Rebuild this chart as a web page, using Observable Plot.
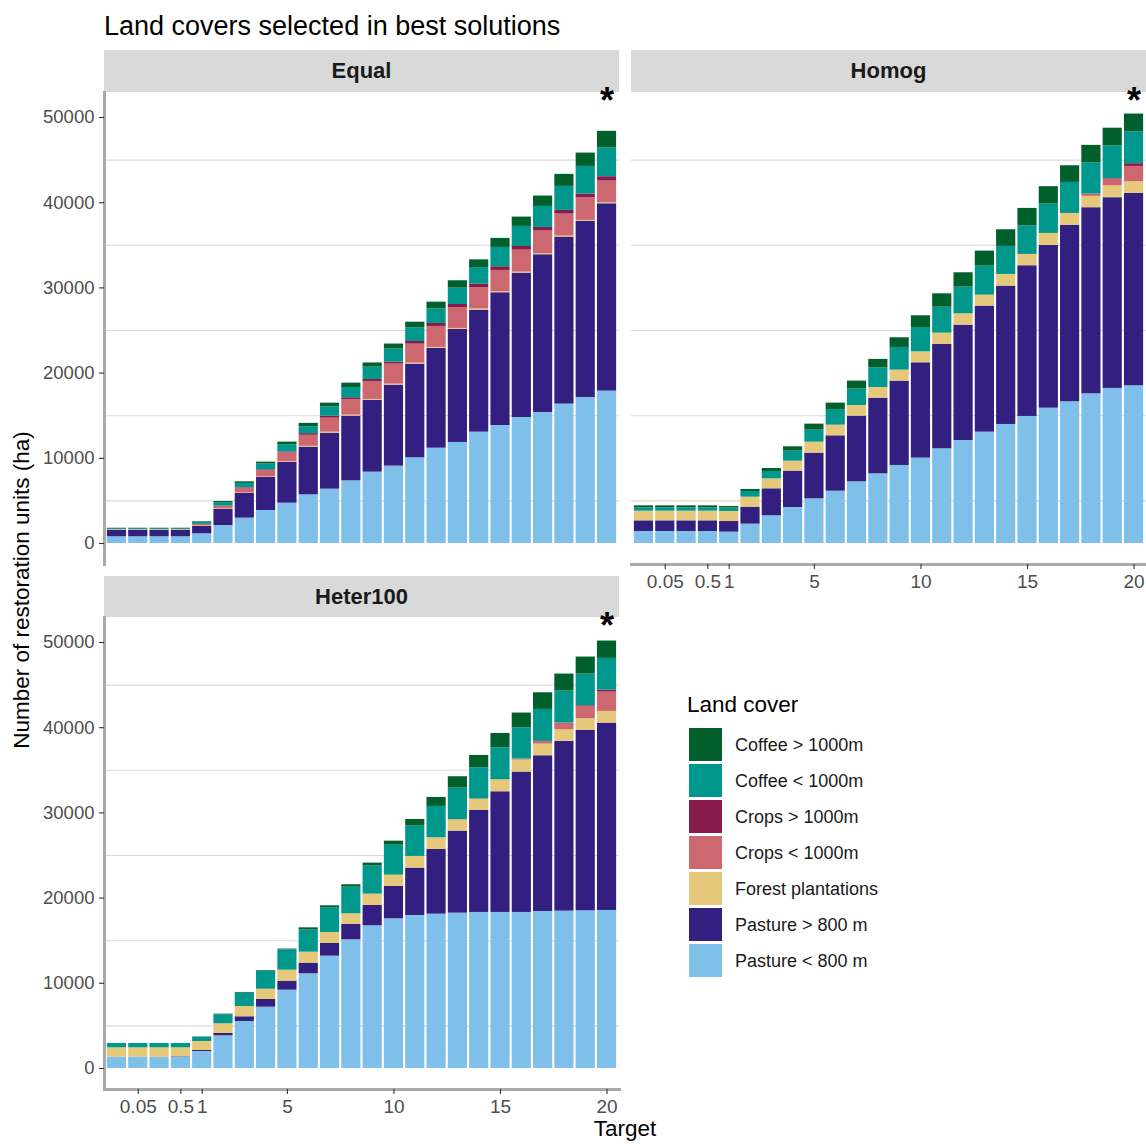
<!DOCTYPE html>
<html>
<head>
<meta charset="utf-8">
<script src="https://cdn.jsdelivr.net/npm/d3@7"></script>
<script src="https://cdn.jsdelivr.net/npm/@observablehq/plot@0.6"></script>
<style>
  html, body { margin: 0; padding: 0; background: #fff; }
  body { font-family: "Liberation Sans", Arial, Helvetica, sans-serif; }
  #root { position: relative; width: 1146px; height: 1144px; overflow: hidden; background: #fff; }
  .strip { position: absolute; background: #d9d9d9; color: #1a1a1a; font-weight: bold; font-size: 22px;
           display: flex; align-items: center; justify-content: center; }
  .title { font-size: 27px; color: #000; line-height: 1; white-space: nowrap; }
  .axtitle { font-size: 22.5px; color: #000; line-height: 1; white-space: nowrap; }
  .legtitle { font-size: 22.5px; color: #000; line-height: 1; white-space: nowrap; }
  .legkey { position: absolute; width: 33px; height: 33px; }
  .leglab { position: absolute; font-size: 18px; color: #1a1a1a; line-height: 1; white-space: nowrap; }
  svg { overflow: visible; }
</style>
</head>
<body>
<div id="root"></div>
<script>
// ---------------- data ----------------
const targets = ["0.01","0.05","0.1","0.5","1","2","3","4","5","6","7","8","9","10","11","12","13","14","15","16","17","18","19","20"];
const xTickLabels = ["0.05","0.5","1","5","10","15","20"];
const yTicks = [0, 10000, 20000, 30000, 40000, 50000];
const gridValues = [5000, 15000, 25000, 35000, 45000];
const starTargets = ["20"];

// stack order bottom -> top
const coverClasses = ["Pasture < 800 m","Pasture > 800 m","Forest plantations","Crops < 1000m","Crops > 1000m","Coffee < 1000m","Coffee > 1000m"];
const coverColors  = ["#7fc0ea","#321f80","#e6c87a","#cd6871","#881a4c","#00978c","#005f2b"];
const panelNames = ["Equal","Homog","Heter100"];

// Equal
const eqPastureLow  = [790,790,790,790,1135,2110,2975,3875,4735,5715,6380,7355,8375,9080,10060,11190,11860,13070,13850,14790,15380,16360,17140,17885];
const eqPastureHigh = [740,740,740,740,860,1880,2900,3875,4775,5595,6570,7595,8415,9510,10990,11700,13260,14320,15580,16945,18510,19605,20660,21990];
const eqForest      = [70,70,70,70,60,70,60,70,80,100,120,120,120,120,120,120,120,150,120,120,120,120,120,120];
const eqCropsLow    = [50,50,50,50,170,280,560,760,1050,1290,1640,1800,2110,2350,2230,2465,2425,2500,2500,2580,2660,2580,2660,2545];
const eqCropsHigh   = [0,0,0,0,20,50,60,70,100,190,230,230,230,230,310,350,390,390,430,430,430,430,430,510];
const eqCoffeeLow   = [110,110,110,110,220,400,500,680,850,820,1100,1210,1450,1530,1600,1720,1920,1960,2270,2350,2465,2820,3250,3405];
const eqCoffeeHigh  = [30,30,30,30,75,140,185,220,310,390,430,510,490,590,665,780,860,900,1060,1095,1215,1410,1565,1920];

// Homog
const hoPastureLow  = [1410,1410,1410,1410,1330,2270,3250,4225,5245,6140,7240,8180,9160,10020,11115,12090,13070,13970,14910,15885,16635,17570,18200,18510];
const hoPastureHigh = [1250,1250,1250,1250,1250,1995,3170,4265,5360,6500,7710,8880,9900,11190,12245,13540,14790,16240,17690,19100,20700,21840,22385,22580];
const hoForest      = [1135,1135,1135,1135,1175,1175,1170,1175,1290,1250,1250,1255,1290,1290,1330,1335,1290,1370,1330,1410,1405,1330,1405,1370];
const hoCropsLow    = [0,0,0,0,0,0,0,0,0,0,0,0,0,0,0,0,0,0,0,0,0,275,785,1800];
const hoCropsHigh   = [0,0,0,0,0,0,0,0,0,0,0,0,0,0,0,0,0,0,0,0,0,0,60,315];
const hoCoffeeLow   = [390,390,390,390,430,665,860,1175,1410,1840,1920,2310,2660,2855,3050,3130,3405,3290,3365,3445,3640,3680,3835,3755];
const hoCoffeeHigh  = [235,235,235,235,160,235,350,510,705,745,940,980,1135,1370,1565,1680,1760,1955,2035,2035,1955,2035,2075,2075];

// Heter100
const hePastureLow  = [1330,1330,1330,1330,1995,3835,5520,7200,9195,11115,13185,15105,16750,17570,17960,18115,18235,18315,18315,18315,18430,18470,18510,18550];
const hePastureHigh = [0,0,0,50,120,275,550,900,1055,1250,1490,1800,2385,3795,5560,7595,9625,11975,14165,16475,18275,19920,21170,21990];
const heForest      = [1095,1095,1095,1045,1055,1135,1210,1210,1290,1290,1290,1255,1330,1330,1370,1370,1335,1330,1410,1410,1370,1370,1370,1370];
const heCropsLow    = [0,0,0,0,0,0,0,0,0,0,0,0,0,0,0,0,0,0,0,120,315,785,1445,2270];
const heCropsHigh   = [0,0,0,0,0,0,0,0,0,0,0,0,0,0,0,0,0,0,0,0,0,0,80,235];
const heCoffeeLow   = [510,510,510,510,510,1055,1565,2075,2395,2620,2895,3130,3325,3520,3560,3680,3720,3680,3755,3680,3755,3755,3720,3720];
const heCoffeeHigh  = [0,0,0,0,30,80,80,80,80,235,235,275,315,470,780,1055,1330,1445,1680,1720,1955,1995,1995,2035];

// ---------------- build ----------------
function tidy(arrays) {
  const rows = [];
  targets.forEach((t, i) => {
    coverClasses.forEach((c, k) => rows.push({ target: t, cover: c, value: arrays[k][i] }));
  });
  return rows;
}
const equalRows = tidy([eqPastureLow, eqPastureHigh, eqForest, eqCropsLow, eqCropsHigh, eqCoffeeLow, eqCoffeeHigh]);
const homogRows = tidy([hoPastureLow, hoPastureHigh, hoForest, hoCropsLow, hoCropsHigh, hoCoffeeLow, hoCoffeeHigh]);
const heterRows = tidy([hePastureLow, hePastureHigh, heForest, heCropsLow, heCropsHigh, heCoffeeLow, heCoffeeHigh]);

const root = document.getElementById("root");
const FONT = "'Liberation Sans', Arial, Helvetica, sans-serif";
const AXIS_LINE = "#a9a9a9";

function makePanel(rows, { width, height, marginLeft, marginBottom, showX, showY }) {
  const marks = [
    Plot.ruleY(gridValues, { stroke: "#dadada", strokeWidth: 1.1 }),
    Plot.barY(rows, { x: "target", y: "value", fill: "cover" }),
    Plot.text(starTargets, { x: d => d, text: () => "*", frameAnchor: "top", dy: -5,
                             fontSize: 36, fontWeight: "bold", fill: "#000" })
  ];
  if (showY) {
    marks.push(Plot.frame({ anchor: "left", stroke: AXIS_LINE, strokeWidth: 3 }));
    marks.push(Plot.axisY(yTicks, { tickFormat: d => String(d), tickSize: 5, tickPadding: 5,
      fontSize: 18.5, fill: "#4d4d4d", stroke: "#333", strokeWidth: 1.1, label: null }));
  }
  if (showX) {
    marks.push(Plot.frame({ anchor: "bottom", stroke: AXIS_LINE, strokeWidth: 3 }));
    marks.push(Plot.axisX(xTickLabels, { tickSize: 5, tickPadding: 5,
      fontSize: 19, fill: "#4d4d4d", stroke: "#333", strokeWidth: 1.1, label: null }));
  }
  return Plot.plot({
    width, height,
    marginLeft, marginRight: width > 600 ? 1 : 0, marginTop: 0, marginBottom,
    style: { fontFamily: FONT, fontSize: "18px", background: "transparent", overflow: "visible" },
    x: { type: "band", domain: targets, paddingInner: 0.1, paddingOuter: 0.135, round: false,
         axis: showX ? undefined : null },
    y: { domain: [-2465, 52934], axis: showY ? undefined : null },
    color: { domain: coverClasses, range: coverColors },
    marks
  });
}

function place(el, left, top) {
  el.style.position = "absolute";
  el.style.left = left + "px";
  el.style.top = top + "px";
  root.appendChild(el);
  return el;
}
function div(cls, text, left, top, extra) {
  const d = document.createElement("div");
  d.className = cls;
  d.textContent = text;
  place(d, left, top);
  if (extra) Object.assign(d.style, extra);
  return d;
}

// title
div("title", "Land covers selected in best solutions", 104, 13);

// strips
div("strip", panelNames[0], 104, 50, { width: "515px", height: "42px" });
div("strip", panelNames[1], 631, 50, { width: "515px", height: "42px" });
div("strip", panelNames[2], 104, 576, { width: "515px", height: "41px" });

// panels
place(makePanel(equalRows, { width: 620, height: 472, marginLeft: 104, marginBottom: 0, showX: false, showY: true }), 0, 92);
place(makePanel(homogRows, { width: 515, height: 502, marginLeft: 0, marginBottom: 30, showX: true, showY: false }), 631, 92);
place(makePanel(heterRows, { width: 620, height: 502, marginLeft: 104, marginBottom: 30, showX: true, showY: true }), 0, 617);

// axis titles
div("axtitle", "Target", 625, 1118, { transform: "translateX(-50%)" });
div("axtitle", "Number of restoration units (ha)", 22, 590,
    { transform: "translate(-50%, -50%) rotate(-90deg)", transformOrigin: "50% 50%" });

// legend (reverse of stack order)
div("legtitle", "Land cover", 687, 694);
const legendOrder = coverClasses.slice().reverse();
legendOrder.forEach((c, i) => {
  const k = coverClasses.indexOf(c);
  const y = 728 + i * 36;
  const key = document.createElement("div");
  key.className = "legkey";
  key.style.background = coverColors[k];
  place(key, 689, y);
  div("leglab", c, 735, y + 8);
});
</script>
</body>
</html>
